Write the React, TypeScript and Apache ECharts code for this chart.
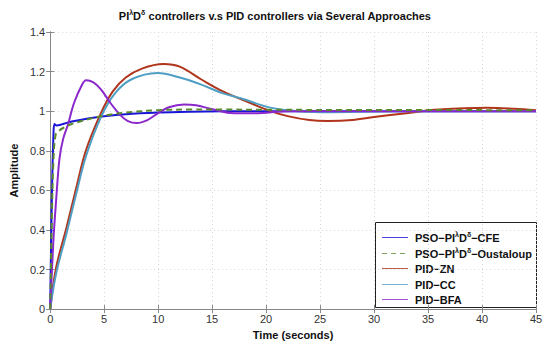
import React, { useEffect, useRef } from "react";
import * as echarts from "echarts";

const xTicks = { min: 0, max: 45, interval: 5 };
const yTicks = { min: 0, max: 1.4, interval: 0.2 };

const cfeT = [0, 0.15, 0.3, 0.4, 0.6, 1, 2, 3, 5, 7, 10, 13, 16, 20, 30, 45];
const cfeV = [0, 0.55, 0.88, 0.935, 0.928, 0.932, 0.948, 0.958, 0.974, 0.985, 0.993, 0.997, 0.999, 1.0, 1.0, 1.0];

const oustT = [0, 0.15, 0.3, 0.5, 0.8, 1.2, 2, 3, 5, 7, 10, 13, 16, 20, 30, 45];
const oustV = [0, 0.45, 0.75, 0.88, 0.9, 0.915, 0.935, 0.952, 0.977, 0.993, 1.005, 1.008, 1.008, 1.007, 1.006, 1.005];

const znT = [0, 0.55, 1.5, 2.4, 3.3, 4.7, 5.8, 7, 8.5, 10.5, 12, 14, 16, 18.6, 20.4, 22, 24, 25.7, 28, 30, 33, 36, 40.5, 43, 45];
const znV = [0, 0.21, 0.41, 0.61, 0.8, 0.99, 1.1, 1.17, 1.215, 1.238, 1.225, 1.16, 1.1, 1.04, 1.0, 0.975, 0.955, 0.95, 0.955, 0.97, 0.99, 1.008, 1.017, 1.012, 1.005];

const ccT = [0, 0.55, 1.5, 2.4, 3.3, 4.7, 6, 7.5, 9.95, 12, 14, 16, 17.65, 20.4, 23, 26, 30, 35, 45];
const ccV = [0, 0.18, 0.38, 0.58, 0.77, 0.97, 1.09, 1.16, 1.193, 1.17, 1.134, 1.09, 1.065, 1.018, 1.0, 0.995, 0.998, 1.0, 1.0];

const bfaT = [0, 0.3, 0.55, 0.86, 1.2, 1.63, 2.2, 2.87, 3.33, 4, 4.7, 5.6, 6.5, 7.2, 8, 9, 10, 11, 12.4, 13.5, 15, 17, 19, 22, 45];
const bfaV = [0, 0.35, 0.55, 0.76, 0.86, 0.93, 1.04, 1.125, 1.156, 1.145, 1.11, 1.04, 0.98, 0.95, 0.94, 0.955, 0.99, 1.02, 1.034, 1.03, 1.01, 0.99, 0.99, 1.0, 1.0];

const seriesNames = ["PSO-PIλDδ-CFE", "PSO-PIλDδ-Oustaloup", "PID-ZN", "PID-CC", "PID-BFA"];
const seriesColors = ["#1a14d8", "#5a8a2e", "#b0351c", "#4f9ec4", "#8a28cc"];

const pair = (t: number[], v: number[]) => t.map((x, i) => [x, v[i]]);

const legendLabel = (name: string) => {
  const m = name.match(/^PSO-PIλDδ-(.*)$/);
  if (m) return `{n|PSO−PI}{s|λ}{n|D}{s|δ}{n|−${m[1]}}`;
  return `{n|${name.replace("-", "−")}}`;
};

export default function App() {
  const ref = useRef<HTMLDivElement>(null);
  useEffect(() => {
    if (!ref.current) return;
    const chart = echarts.init(ref.current, null, { renderer: "svg" });
    const font = "'Liberation Sans', Arial, Helvetica, sans-serif";
    const datas = [pair(cfeT, cfeV), pair(oustT, oustV), pair(znT, znV), pair(ccT, ccV), pair(bfaT, bfaV)];
    const rich = {
      n: { fontSize: 11, fontWeight: "bold", fill: "#111", color: "#111", fontFamily: font },
      s: { fontSize: 7, fontWeight: "bold", fill: "#111", color: "#111", fontFamily: font, padding: [0, 0, 7, 0] },
    };
    const boxX = 375, boxY = 222, boxW = 161, boxH = 85, rowH = 15.5, row0 = 237;
    const legendItems: any[] = [
      {
        type: "rect",
        shape: { x: boxX + 0.5, y: boxY + 0.5, width: boxW, height: boxH },
        style: { fill: "#fff", stroke: "#222", lineWidth: 1 },
      },
    ];
    seriesNames.forEach((name, i) => {
      const cy = Math.round(row0 + i * rowH) + 0.5;
      legendItems.push({
        type: "line",
        shape: { x1: boxX + 7, y1: cy, x2: boxX + 33, y2: cy },
        style: { stroke: seriesColors[i], lineWidth: 1, opacity: 0.8, lineDash: i === 1 ? [5, 4] : null },
      });
      legendItems.push({
        type: "text",
        x: boxX + 40,
        y: cy,
        style: {
          text: legendLabel(name),
          rich,
          verticalAlign: "middle",
          align: "left",
          font: `bold 11px ${font}`,
        },
      });
    });
    chart.setOption({
      animation: false,
      backgroundColor: "#fff",
      title: {
        text: "{n|PI}{s|λ}{n|D}{s|δ}{n| controllers v.s PID controllers via Several Approaches}",
        left: "center",
        top: 4,
        textStyle: { fontFamily: font, rich },
      },
      graphic: [{ type: "group", z: 100, children: legendItems }],
      grid: { left: 49, right: 14, top: 32, bottom: 34 },
      xAxis: [
        {
          type: "value",
          ...xTicks,
          name: "Time (seconds)",
          nameLocation: "middle",
          nameGap: 17,
          nameTextStyle: { fontFamily: font, fontSize: 11, fontWeight: "bold", color: "#111" },
          axisLine: { show: true, lineStyle: { color: "#888" } },
          axisTick: { show: true, inside: true, length: 4, lineStyle: { color: "#888" } },
          axisLabel: { fontFamily: font, fontSize: 11, color: "#333", margin: 4 },
          splitLine: { show: true, lineStyle: { color: "#d4d4d4", type: [1, 3] } },
        },
        {
          type: "value",
          position: "top",
          ...xTicks,
          axisLine: { show: true, lineStyle: { color: "#888" } },
          axisTick: { show: true, inside: true, length: 4, lineStyle: { color: "#888" } },
          axisLabel: { show: false },
          splitLine: { show: false },
        },
      ],
      yAxis: [
        {
          type: "value",
          ...yTicks,
          name: "Amplitude",
          nameLocation: "middle",
          nameGap: 29,
          nameTextStyle: { fontFamily: font, fontSize: 11, fontWeight: "bold", color: "#111" },
          axisLine: { show: true, lineStyle: { color: "#888" } },
          axisTick: { show: true, inside: true, length: 4, lineStyle: { color: "#888" } },
          axisLabel: { fontFamily: font, fontSize: 11, color: "#333", margin: 5 },
          splitLine: { show: true, lineStyle: { color: "#d4d4d4", type: [1, 3] } },
        },
        {
          type: "value",
          position: "right",
          ...yTicks,
          axisLine: { show: true, lineStyle: { color: "#888" } },
          axisTick: { show: true, inside: true, length: 4, lineStyle: { color: "#888" } },
          axisLabel: { show: false },
          splitLine: { show: false },
        },
      ],
      series: seriesNames.map((name, i) => ({
        name,
        type: "line",
        xAxisIndex: 0,
        yAxisIndex: 0,
        data: datas[i],
        showSymbol: false,
        symbol: "none",
        smooth: 0.35,
        color: seriesColors[i],
        lineStyle: {
          width: 2,
          color: seriesColors[i],
          type: i === 1 ? [6, 4] : "solid",
        },
        z: i === 1 ? 3 : 2,
      })),
    });
    return () => chart.dispose();
  }, []);
  return <div ref={ref} style={{ position: "fixed", left: 0, top: 0, width: 550, height: 345 }} />;
}
